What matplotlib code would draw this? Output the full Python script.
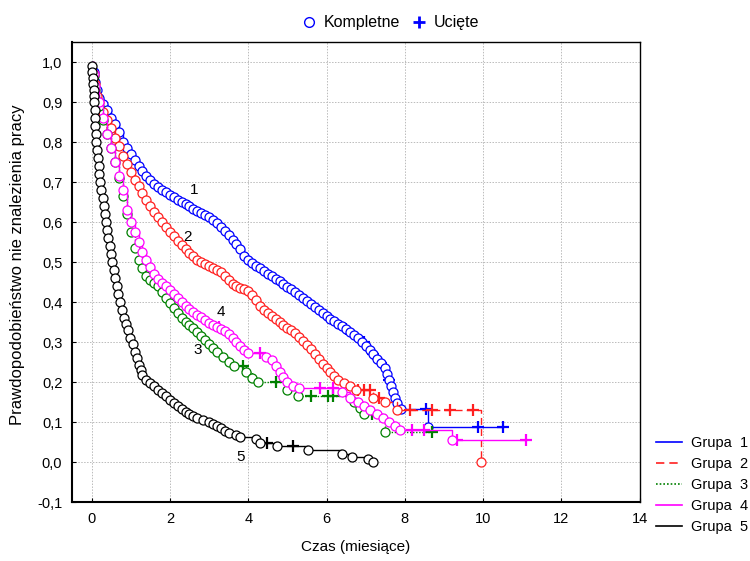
import numpy as np
import matplotlib
matplotlib.use("Agg")
import matplotlib.pyplot as plt
from matplotlib.lines import Line2D
from matplotlib.ticker import FuncFormatter, MultipleLocator

plt.rcParams["font.family"] = ["Liberation Sans", "DejaVu Sans"]

# Kaplan-Meier estimates: event times (t_*), survival after each event (s_*),
# censored observation times (c_*)
t_g1 = [0.05, 0.1, 0.15, 0.2, 0.3, 0.4, 0.5, 0.6, 0.7, 0.8, 0.9, 1.0, 1.1, 1.2, 1.3,
        1.4, 1.5, 1.6, 1.7, 1.8, 1.9, 2.0, 2.1, 2.2, 2.3, 2.4, 2.5, 2.6, 2.7, 2.8,
        2.9, 3.0, 3.1, 3.2, 3.3, 3.4, 3.5, 3.6, 3.7, 3.8, 3.9, 4.0, 4.1, 4.2, 4.3,
        4.4, 4.5, 4.6, 4.7, 4.8, 4.9, 5.0, 5.1, 5.2, 5.3, 5.4, 5.5, 5.6, 5.7, 5.8,
        5.9, 6.0, 6.1, 6.2, 6.3, 6.4, 6.5, 6.6, 6.7, 6.8, 6.9, 7.0, 7.1, 7.2, 7.3,
        7.4, 7.5, 7.55, 7.6, 7.65, 7.7, 7.75, 7.8, 7.9, 8.6]
s_g1 = [0.975, 0.95, 0.93, 0.91, 0.895, 0.88, 0.86, 0.845, 0.825, 0.80, 0.785, 0.77,
        0.755, 0.74, 0.728, 0.715, 0.705, 0.695, 0.688, 0.68, 0.674, 0.668, 0.662,
        0.655, 0.65, 0.645, 0.64, 0.633, 0.627, 0.622, 0.618, 0.613, 0.605, 0.597,
        0.588, 0.578, 0.568, 0.556, 0.545, 0.532, 0.515, 0.505, 0.497, 0.49, 0.484,
        0.477, 0.47, 0.465, 0.458, 0.452, 0.445, 0.438, 0.432, 0.425, 0.418, 0.41,
        0.402, 0.395, 0.388, 0.38, 0.373, 0.366, 0.358, 0.352, 0.345, 0.34, 0.333,
        0.325, 0.318, 0.31, 0.30, 0.29, 0.28, 0.27, 0.258, 0.248, 0.235, 0.22, 0.205,
        0.19, 0.175, 0.16, 0.148, 0.132, 0.088]
c_g1 = [6.5, 6.95, 7.2, 7.4, 7.6, 8.55, 9.87, 10.5]

t_g2 = [0.05, 0.1, 0.15, 0.2, 0.3, 0.4, 0.5, 0.6, 0.7, 0.8, 0.9, 1.0, 1.1, 1.2, 1.3,
        1.4, 1.5, 1.6, 1.7, 1.8, 1.9, 2.0, 2.1, 2.2, 2.3, 2.4, 2.5, 2.6, 2.7, 2.8,
        2.9, 3.0, 3.1, 3.2, 3.3, 3.4, 3.5, 3.6, 3.7, 3.8, 3.9, 4.0, 4.1, 4.2, 4.3,
        4.4, 4.5, 4.6, 4.7, 4.8, 4.9, 5.0, 5.1, 5.2, 5.3, 5.4, 5.5, 5.6, 5.7, 5.8,
        5.9, 6.0, 6.1, 6.2, 6.3, 6.45, 6.6, 6.75, 7.2, 7.5, 7.8, 9.95]
s_g2 = [0.97, 0.945, 0.915, 0.9, 0.875, 0.855, 0.835, 0.81, 0.79, 0.765, 0.745,
        0.725, 0.705, 0.69, 0.672, 0.655, 0.64, 0.625, 0.612, 0.60, 0.588, 0.576,
        0.565, 0.553, 0.542, 0.532, 0.522, 0.514, 0.506, 0.50, 0.495, 0.49, 0.485,
        0.48, 0.474, 0.466, 0.456, 0.445, 0.44, 0.436, 0.432, 0.428, 0.418, 0.405,
        0.39, 0.38, 0.372, 0.364, 0.357, 0.35, 0.343, 0.336, 0.33, 0.322, 0.313,
        0.303, 0.293, 0.282, 0.27, 0.258, 0.246, 0.236, 0.226, 0.215, 0.205, 0.197,
        0.19, 0.18, 0.16, 0.15, 0.13, 0.0]
c_g2 = [6.8, 6.95, 7.1, 7.35, 8.13, 8.7, 9.15, 9.75]

t_g3 = [0.05, 0.1, 0.2, 0.3, 0.4, 0.5, 0.6, 0.7, 0.8, 0.9, 1.0, 1.1, 1.2, 1.3, 1.4,
        1.5, 1.6, 1.7, 1.8, 1.9, 2.0, 2.1, 2.2, 2.3, 2.4, 2.5, 2.6, 2.7, 2.8, 2.9,
        3.0, 3.1, 3.2, 3.35, 3.5, 3.65, 3.95, 4.1, 4.25, 5.0, 5.27, 6.7, 6.85, 6.95,
        7.5]
s_g3 = [0.965, 0.93, 0.89, 0.855, 0.82, 0.785, 0.75, 0.71, 0.665, 0.62, 0.575,
        0.535, 0.505, 0.485, 0.465, 0.455, 0.447, 0.44, 0.425, 0.41, 0.397, 0.385,
        0.372, 0.36, 0.35, 0.343, 0.335, 0.325, 0.315, 0.305, 0.295, 0.285, 0.275,
        0.262, 0.25, 0.24, 0.225, 0.21, 0.2, 0.18, 0.165, 0.15, 0.135, 0.12, 0.075]
c_g3 = [3.87, 4.7, 5.6, 6.04, 6.17, 7.16, 8.7]

t_g4 = [0.05, 0.1, 0.2, 0.3, 0.4, 0.5, 0.6, 0.7, 0.8, 0.9, 1.0, 1.1, 1.2, 1.3, 1.4,
        1.5, 1.6, 1.7, 1.8, 1.9, 2.0, 2.1, 2.2, 2.3, 2.4, 2.5, 2.6, 2.7, 2.8, 2.9,
        3.0, 3.1, 3.2, 3.3, 3.4, 3.5, 3.6, 3.7, 3.8, 3.9, 4.0, 4.45, 4.6, 4.7, 4.8,
        4.9, 5.0, 5.15, 5.3, 6.4, 6.6, 6.8, 6.95, 7.1, 7.3, 7.45, 7.6, 7.75, 7.88,
        9.2]
s_g4 = [0.97, 0.94, 0.9, 0.86, 0.82, 0.785, 0.75, 0.715, 0.68, 0.63, 0.6, 0.575,
        0.55, 0.525, 0.505, 0.487, 0.47, 0.457, 0.448, 0.44, 0.43, 0.42, 0.41, 0.40,
        0.39, 0.382, 0.375, 0.368, 0.362, 0.355, 0.348, 0.342, 0.337, 0.332, 0.327,
        0.32, 0.31, 0.30, 0.29, 0.28, 0.272, 0.262, 0.255, 0.24, 0.225, 0.212, 0.2,
        0.19, 0.185, 0.175, 0.16, 0.15, 0.14, 0.13, 0.12, 0.11, 0.10, 0.09, 0.08,
        0.055]
c_g4 = [3.25, 4.3, 5.83, 6.17, 8.18, 8.5, 9.34, 11.1]

t_g5 = [0.01, 0.02, 0.03, 0.04, 0.05, 0.06, 0.07, 0.08, 0.09, 0.1, 0.11, 0.12, 0.14,
        0.16, 0.18, 0.2, 0.22, 0.25, 0.28, 0.31, 0.34, 0.37, 0.4, 0.43, 0.46, 0.49,
        0.52, 0.56, 0.6, 0.64, 0.68, 0.72, 0.77, 0.82, 0.87, 0.93, 0.99, 1.05, 1.1,
        1.15, 1.2, 1.25, 1.3, 1.4, 1.5, 1.6, 1.7, 1.8, 1.9, 2.0, 2.1, 2.2, 2.3, 2.4,
        2.5, 2.6, 2.7, 2.85, 3.0, 3.1, 3.2, 3.3, 3.4, 3.5, 3.7, 3.8, 4.2, 4.3, 4.73,
        5.53, 6.4, 6.65, 7.06, 7.2]
s_g5 = [0.99, 0.975, 0.96, 0.945, 0.93, 0.915, 0.9, 0.88, 0.86, 0.84, 0.82, 0.8,
        0.78, 0.76, 0.74, 0.72, 0.70, 0.68, 0.66, 0.64, 0.62, 0.60, 0.58, 0.56, 0.54,
        0.52, 0.50, 0.48, 0.46, 0.44, 0.42, 0.40, 0.38, 0.36, 0.345, 0.33, 0.31,
        0.295, 0.275, 0.26, 0.243, 0.23, 0.218, 0.205, 0.197, 0.19, 0.18, 0.172,
        0.165, 0.155, 0.148, 0.14, 0.133, 0.125, 0.12, 0.115, 0.11, 0.105, 0.10,
        0.095, 0.09, 0.085, 0.078, 0.073, 0.068, 0.062, 0.057, 0.048, 0.04, 0.03,
        0.02, 0.012, 0.007, 0.0]
c_g5 = [4.48, 5.15]

groups = ["Grupa  1", "Grupa  2", "Grupa  3", "Grupa  4", "Grupa  5"]
curve_labels = ["1", "2", "3", "4", "5"]
label_x = [2.5, 2.33, 2.6, 3.2, 3.71]
label_y = [0.68, 0.5625, 0.28, 0.375, 0.0125]

COLORS = ["#0000FF", "#FF2020", "#008000", "#FF00FF", "#000000"]
STYLES = ["-", (0, (5, 3)), (0, (1, 1.2)), "-", "-"]

fig = plt.figure(figsize=(7.5, 5.61), dpi=100)
ax = fig.add_axes([0.096, 0.105, 0.757, 0.82])

series = [(t_g1, s_g1, c_g1), (t_g2, s_g2, c_g2), (t_g3, s_g3, c_g3),
          (t_g4, s_g4, c_g4), (t_g5, s_g5, c_g5)]

for i, (te, se, tc) in enumerate(series):
    col = COLORS[i]
    t_end = max(te[-1], max(tc))
    times = np.array([0.0] + list(te) + [t_end])
    surv = np.array([1.0] + list(se) + [se[-1]])
    ax.step(times, surv, where="post", color=col, lw=1.0, ls=STYLES[i],
            zorder=2 + i)
    # censored marks sit on the current level of the step curve
    tc = np.array(tc)
    lvl = surv[np.searchsorted(times, tc, side="right") - 1]
    ax.plot(tc, lvl, ls="none", marker="+", ms=8, mew=1.6, color=col,
            zorder=2 + i)
    ax.plot(te, se, ls="none", marker="o", ms=6.5, mew=0.9, mfc="white",
            mec=col, zorder=2 + i)
    ax.text(label_x[i], label_y[i], curve_labels[i], fontsize=11,
            ha="left", va="center", zorder=10)

ax.set_xlim(-0.5, 14)
ax.set_ylim(-0.1, 1.05)
ax.xaxis.set_major_locator(MultipleLocator(2))
ax.yaxis.set_major_locator(MultipleLocator(0.1))
ax.yaxis.set_major_formatter(FuncFormatter(lambda v, p: f"{v:.1f}".replace(".", ",")))
ax.grid(True, color="#BBBBBB", ls=(0, (1.5, 1.5)), lw=0.7)
ax.set_axisbelow(True)
ax.tick_params(direction="in", length=3, labelsize=10.5, pad=7)
for sp in ax.spines.values():
    sp.set_linewidth(1.0)
ax.spines["left"].set_linewidth(1.5)
ax.spines["bottom"].set_linewidth(1.5)

ax.set_xlabel("Czas (miesiące)", fontsize=11, labelpad=10)
ax.set_ylabel("Prawdopodobieństwo nie znalezienia pracy", fontsize=12)
ax.yaxis.set_label_coords(-0.082, 0.515)

# marker legend on top
top_handles = [
    Line2D([], [], ls="none", marker="o", ms=7, mew=1.0, mfc="white", mec="#0000FF"),
    Line2D([], [], ls="none", marker="+", ms=9, mew=2.0, color="#0000FF"),
]
fig.legend(top_handles, ["Kompletne", "Ucięte"], loc="upper center",
           bbox_to_anchor=(0.52, 0.998), ncol=2, frameon=False, fontsize=11.5,
           handletextpad=0.4, columnspacing=0.7, handlelength=1.0)

# group legend bottom right
line_handles = [Line2D([], [], color=COLORS[i], ls=STYLES[i], lw=1.2)
                for i in range(5)]
fig.legend(line_handles, groups, loc="lower right", bbox_to_anchor=(1.015, 0.025),
           frameon=False, fontsize=10.5, handlelength=1.75, handletextpad=0.65,
           labelspacing=0.48)

fig.savefig("out.png", dpi=100)
